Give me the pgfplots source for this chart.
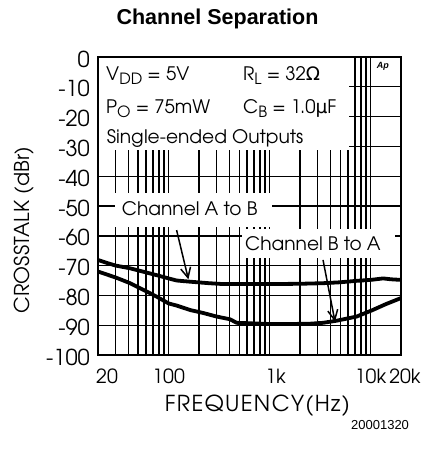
\documentclass[border=0pt]{standalone}
\usepackage{fontspec}
\setmainfont{TeX Gyre Adventor}
\newfontfamily\titlefont{Liberation Sans}
\newfontfamily\symfont{DejaVu Sans}
\usepackage{pgfplots}
\pgfplotsset{compat=1.18}
\usetikzlibrary{arrows.meta}
\newcommand{\sub}[1]{\raisebox{-0.4ex}{\fontsize{15.5}{16}\selectfont #1}}
\begin{document}
\begin{tikzpicture}[x=1pt,y=1pt]
\useasboundingbox (0,0) rectangle (435,-449);
\node[font=\titlefont\bfseries\fontsize{21.5}{24}\selectfont] at (217.5,-19) {Channel Separation};
\node[anchor=east, font=\titlefont\fontsize{13}{14}\selectfont] at (412.5,-425) {20001320};
\begin{axis}[
  at={(98pt,-355pt)}, anchor=south west,
  width=303pt, height=298pt, scale only axis,
  xmode=log, xmin=20, xmax=20000, ymin=-100, ymax=0,
  ytick={-100,-90,-80,-70,-60,-50,-40,-30,-20,-10,0},
  yticklabels={-100,-90,-80,-70,-60,-50,-40,-30,-20,-10,0},
  xtick={20,100,1000,10000,20000},
  xticklabels={\hspace{18pt}20,100,\hspace{12pt}1k,10k\hspace{20pt},\hspace{8pt}20k},
  minor xtick={30,40,50,60,70,80,90,200,300,400,500,600,700,800,900,2000,3000,4000,5000,6000,7000,8000,9000},
  grid=both,
  major grid style={black, line width=1.4pt},
  minor grid style={black, line width=1.4pt},
  axis line style={line width=1.6pt},
  tick style={draw=none},
  tick label style={inner sep=0pt},
  xticklabel style={anchor=north, yshift=-14pt, font=\fontsize{19.5}{22}\selectfont},
  yticklabel style={anchor=east, xshift=-8pt, yshift=-2pt, font=\fontsize{21.9}{24}\selectfont},
  xlabel={FREQUENCY(Hz)},
  ylabel={CROSSTALK (dBr)},
  xlabel style={at={(axis description cs:0.526,-0.1695)}, anchor=center, font=\fontsize{22}{24}\selectfont\addfontfeature{LetterSpace=6}},
  ylabel style={at={(axis description cs:-0.2426,0.419)}, anchor=center, font=\fontsize{20.5}{22}\selectfont\addfontfeature{LetterSpace=1}},
  clip=false,
]
% white boxes
\fill[white] (axis description cs:0.004,0.688) rectangle (axis description cs:0.828,0.996);
\fill[white] (axis description cs:0.056,0.430) rectangle (axis description cs:0.573,0.544);
\fill[white] (axis description cs:0.475,0.326) rectangle (axis description cs:0.980,0.423);
% texts
\begin{scope}[every node/.style={font=\fontsize{18.6}{20}\selectfont, inner sep=0pt}]
\node[anchor=base west] at (axis description cs:0.0264,0.9228) {V\sub{DD} = 5V};
\node[anchor=base west] at (axis description cs:0.4785,0.9228) {R\sub{L} = 32{\symfont Ω}};
\node[anchor=base west] at (axis description cs:0.0264,0.812) {P\sub{O} = 75mW};
\node[anchor=base west] at (axis description cs:0.4785,0.812) {C\sub{B} = 1.0{\symfont μ}F};
\node[anchor=base west] at (axis description cs:0.0287,0.7114) {Single-ended Outputs};
\node[anchor=base west] at (axis description cs:0.0782,0.4698) {Channel A to B};
\node[anchor=base west] at (axis description cs:0.485,0.352) {Channel B to A};
\end{scope}
\node[font=\titlefont\bfseries\itshape\fontsize{9}{10}\selectfont] at (axis description cs:0.94,0.97) {Ap};
% curves
\addplot[black, line width=3.8pt, line join=round] coordinates {
 (20,-68.1) (25,-69.2) (30,-70.0) (41.5,-70.9) (60,-72.3) (76,-73.2) (100,-74.3)
 (120,-75.0) (163,-75.4) (250,-75.9) (348,-76.2) (1000,-76.2) (2000,-76.1)
 (3400,-75.9) (5000,-75.6) (7300,-75.1) (10000,-74.8) (13300,-74.3) (16000,-74.6) (20000,-74.8)
};
\addplot[black, line width=3.8pt, line join=round] coordinates {
 (20,-72.0) (30,-74.0) (41.5,-75.9) (60,-78.6) (76,-80.4) (100,-82.7) (120,-83.4)
 (163,-84.9) (220,-85.9) (299,-87.1) (405,-88.0) (472,-89.2) (1000,-89.6) (1590,-89.6)
 (2500,-89.5) (3380,-89.2) (4600,-88.5) (7270,-87.1) (10500,-84.9) (14000,-83.0) (20000,-80.9)
};
% arrows
\draw[line width=1.5pt, -{Straight Barb[length=10pt,width=10pt,line width=1.5pt]}] (axis cs:120,-58.1) -- (axis cs:157,-74.6);
\draw[line width=1.5pt, -{Straight Barb[length=10pt,width=10pt,line width=1.5pt]}] (axis cs:3380,-68.1) -- (axis cs:4440,-88.8);
\end{axis}
\end{tikzpicture}
\end{document}
